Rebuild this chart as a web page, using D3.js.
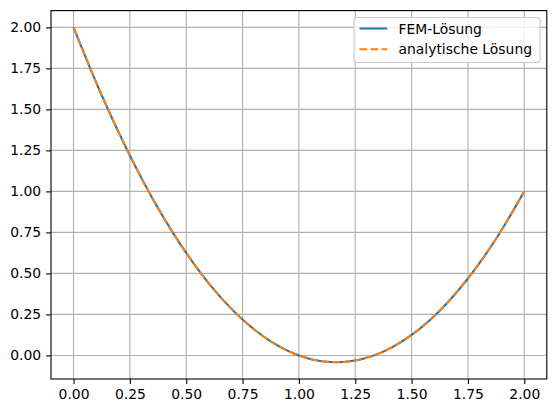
<!DOCTYPE html>
<html>
<head>
<meta charset="utf-8">
<script src="https://cdn.jsdelivr.net/npm/d3@7"></script>
<style>
  body { margin: 0; background: #fff; }
  svg text { font-family: "DejaVu Sans", sans-serif; }
</style>
</head>
<body>
<svg id="chart" width="556" height="413"></svg>
<script>
// values
var xs = [0, 0.125, 0.25, 0.375, 0.5, 0.625, 0.75, 0.875, 1.0, 1.125, 1.25, 1.375, 1.5, 1.625, 1.75, 1.875, 2.0];
var femValues = [2.0, 1.586, 1.219, 0.898, 0.625, 0.398, 0.219, 0.086, 0.0, -0.039, -0.031, 0.023, 0.125, 0.273, 0.469, 0.711, 1.0];
var exactValues = [2.0, 1.586, 1.219, 0.898, 0.625, 0.398, 0.219, 0.086, 0.0, -0.039, -0.031, 0.023, 0.125, 0.273, 0.469, 0.711, 1.0];
var xTicks = [0, 0.25, 0.5, 0.75, 1.0, 1.25, 1.5, 1.75, 2.0];
var yTicks = [0, 0.25, 0.5, 0.75, 1.0, 1.25, 1.5, 1.75, 2.0];
var seriesNames = ["FEM-Lösung", "analytische Lösung"];

var margin = { top: 10.6, right: 9.2, bottom: 34, left: 51 },
    w = 556 - margin.left - margin.right,
    h = 413 - margin.top - margin.bottom;

var svg = d3.select("#chart");
var g = svg.append("g").attr("transform", `translate(${margin.left},${margin.top})`);

var x = d3.scaleLinear().domain([-0.1, 2.1]).range([0, w]);
var y = d3.scaleLinear().domain([-0.1437, 2.102]).range([h, 0]);

// grid
g.append("g").selectAll("line").data(xTicks).join("line")
  .attr("x1", d => x(d)).attr("x2", d => x(d))
  .attr("y1", 0).attr("y2", h)
  .attr("stroke", "#b0b0b0").attr("stroke-width", 1.1);
g.append("g").selectAll("line").data(yTicks).join("line")
  .attr("y1", d => y(d)).attr("y2", d => y(d))
  .attr("x1", 0).attr("x2", w)
  .attr("stroke", "#b0b0b0").attr("stroke-width", 1.1);

// axes
var xAxis = g.append("g").attr("transform", `translate(0,${h})`)
  .call(d3.axisBottom(x).tickValues(xTicks).tickFormat(d3.format(".2f")).tickSize(4.9).tickPadding(4.9));
var yAxis = g.append("g")
  .call(d3.axisLeft(y).tickValues(yTicks).tickFormat(d3.format(".2f")).tickSize(4.9).tickPadding(4.9));
[xAxis, yAxis].forEach(function (a) {
  a.select(".domain").remove();
  a.selectAll(".tick line").attr("stroke", "#000").attr("stroke-width", 1.1);
  a.selectAll(".tick text").attr("fill", "#000").style("font-size", "13.9px").style("font-family", "DejaVu Sans");
});

// lines
var line = d3.line().x((d, i) => x(xs[i])).y(d => y(d)).curve(d3.curveCatmullRom);
g.append("path").datum(femValues)
  .attr("d", line).attr("fill", "none")
  .attr("stroke", "#1f77b4").attr("stroke-width", 2.08);
g.append("path").datum(exactValues)
  .attr("d", line).attr("fill", "none")
  .attr("stroke", "#ff7f0e").attr("stroke-width", 2.08)
  .attr("stroke-dasharray", "7.7,3.33");

// frame
g.append("rect").attr("x", 0).attr("y", 0).attr("width", w).attr("height", h)
  .attr("fill", "none").attr("stroke", "#000").attr("stroke-width", 1.1);

// legend
var legend = svg.append("g").attr("transform", "translate(354,17.5)");
legend.append("rect")
  .attr("width", 186).attr("height", 45).attr("rx", 3)
  .attr("fill", "#fff").attr("fill-opacity", 0.8)
  .attr("stroke", "#cccccc").attr("stroke-width", 1.1);
var items = legend.selectAll(".item").data(seriesNames).join("g")
  .attr("class", "item")
  .attr("transform", (d, i) => `translate(0,${11 + i * 20.8})`);
items.append("line")
  .attr("x1", 5.5).attr("x2", 33.3)
  .attr("stroke", (d, i) => i === 0 ? "#1f77b4" : "#ff7f0e")
  .attr("stroke-width", 2.08)
  .attr("stroke-dasharray", (d, i) => i === 0 ? null : "7.7,3.33");
items.append("text")
  .attr("x", 44.5).attr("y", 5)
  .style("font-size", "13.9px")
  .attr("fill", "#000")
  .text(d => d);
</script>
</body>
</html>
